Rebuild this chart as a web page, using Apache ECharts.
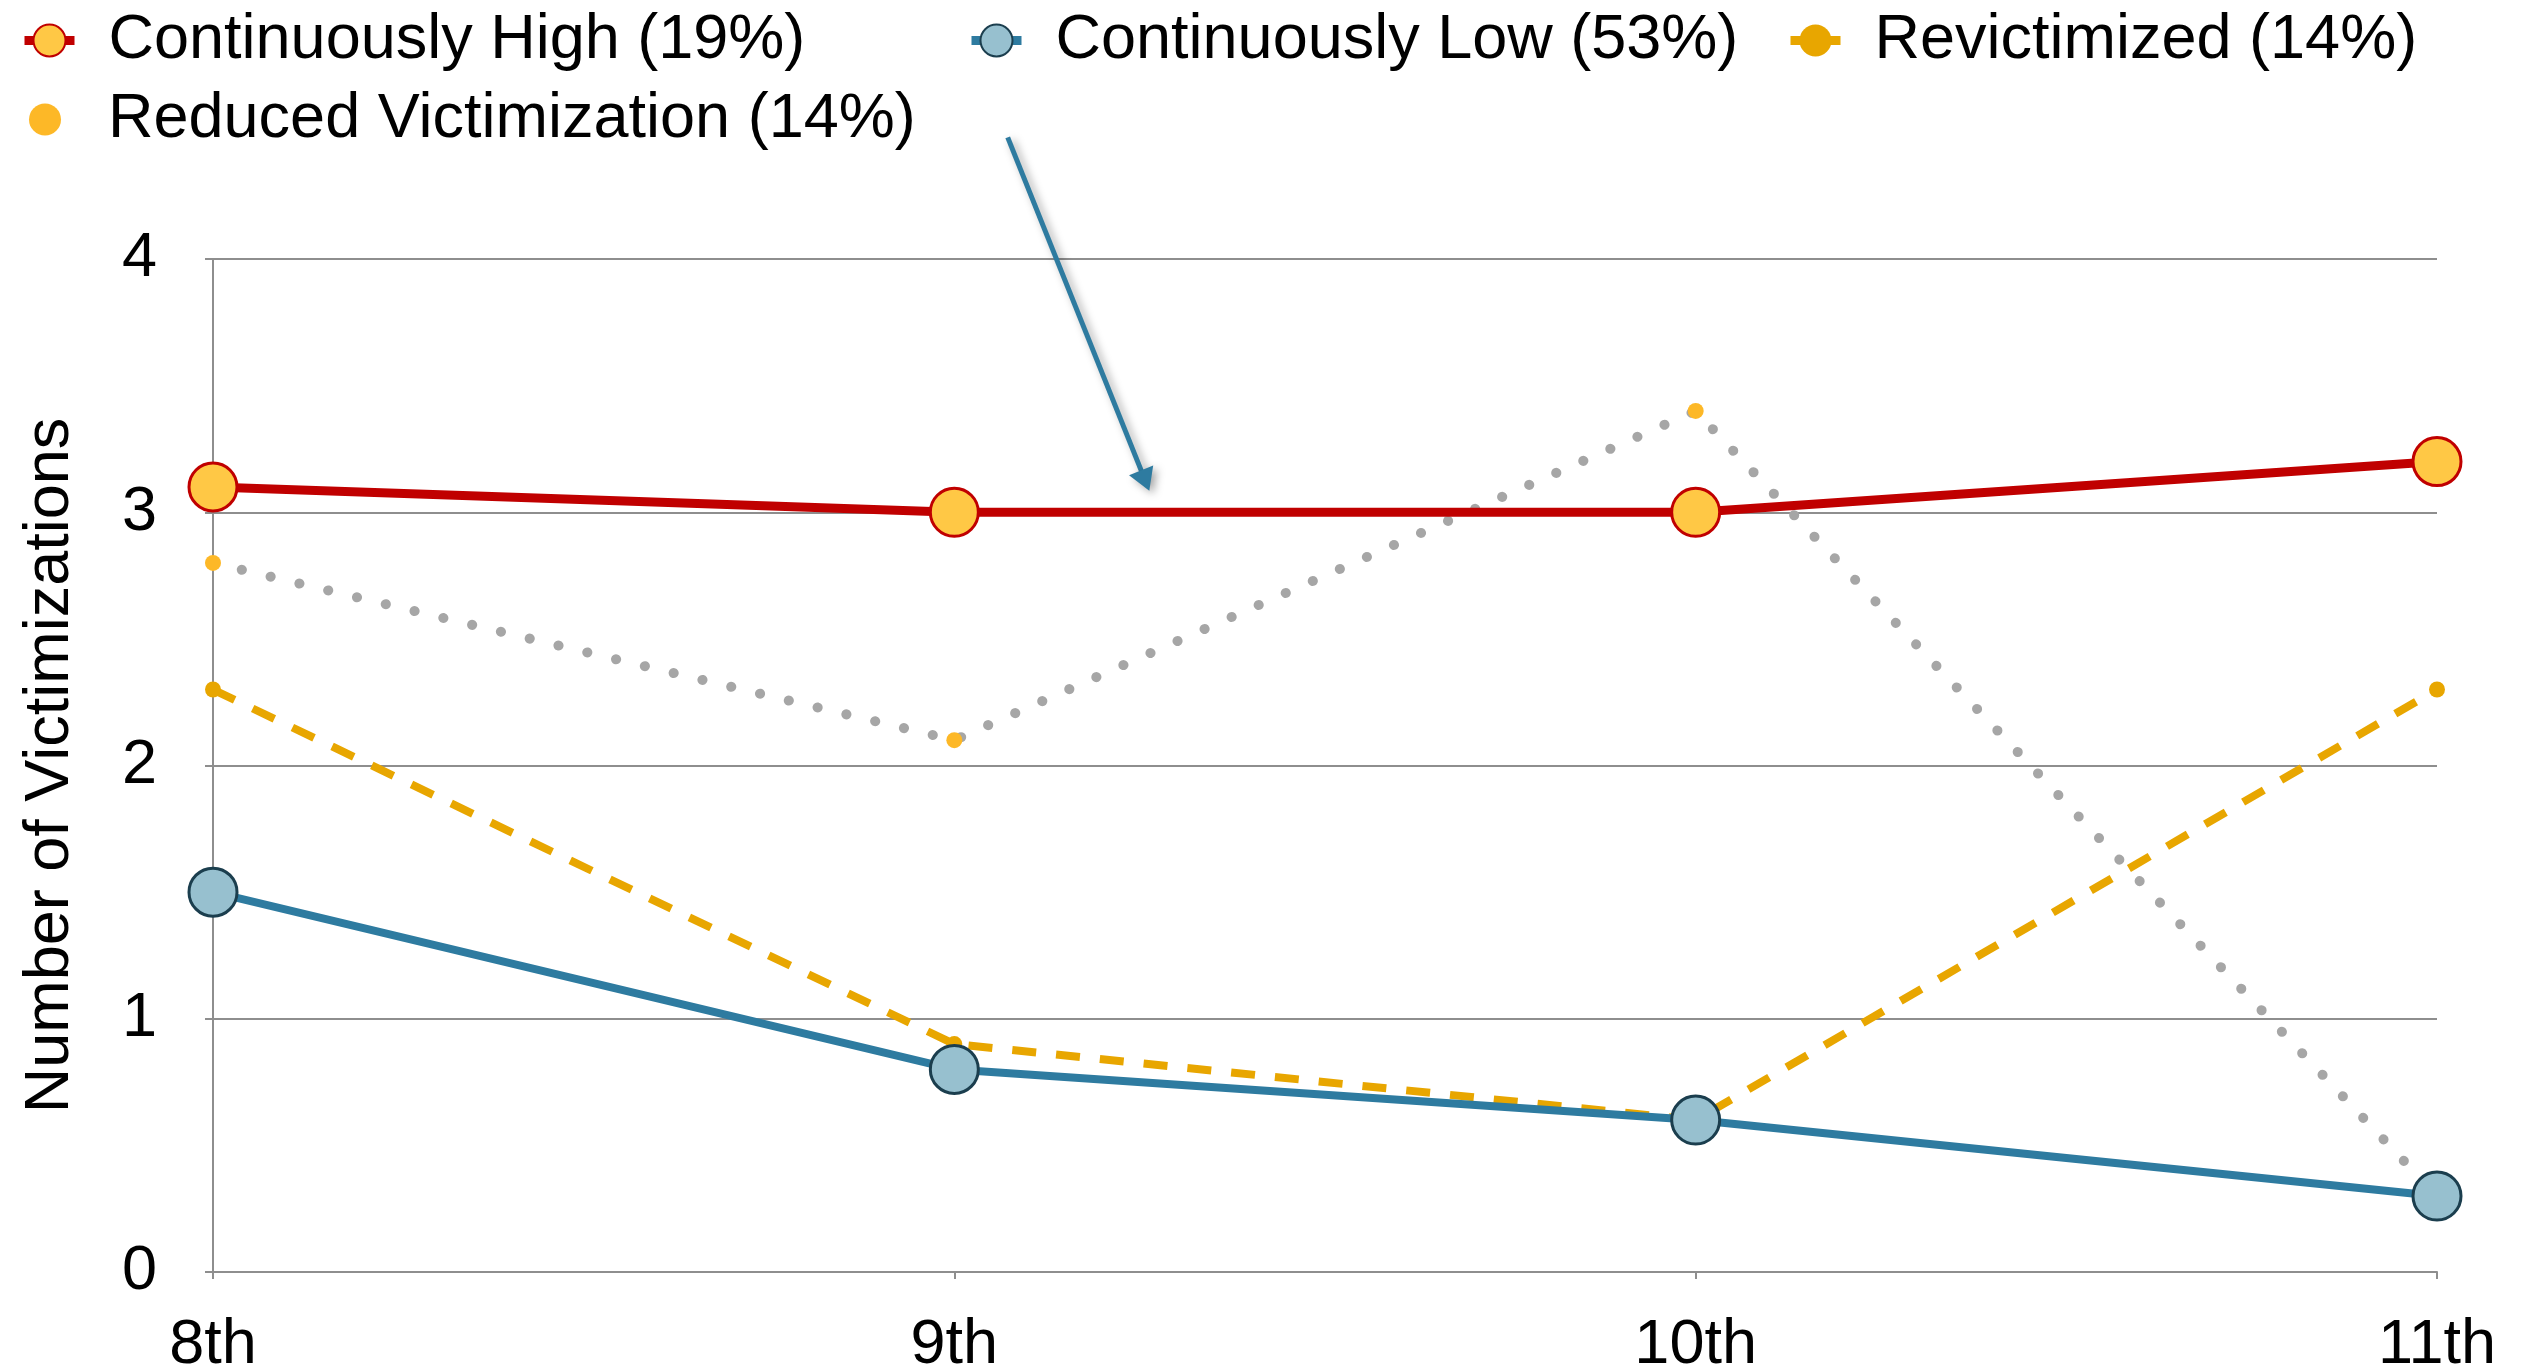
<!DOCTYPE html>
<html>
<head>
<meta charset="utf-8">
<title>Number of Victimizations by Grade</title>
<script src="https://cdn.jsdelivr.net/npm/echarts@6/dist/echarts.min.js"></script>
<style>
  html, body { margin: 0; padding: 0; background: #ffffff; }
  #chart { width: 2530px; height: 1372px; }
</style>
</head>
<body>
<div id="chart"></div>
<script>
// Grades on the x axis
const grades = ['8th', '9th', '10th', '11th'];

// Mean number of victimizations per trajectory group
const continuouslyHigh = [3.1, 3.0, 3.0, 3.2];
const continuouslyLow = [1.5, 0.8, 0.6, 0.3];
const revictimized = [2.3, 0.9, 0.6, 2.3];
const reducedVictimization = [2.8, 2.1, 3.4, 0.3];

// Group names with their share of the sample
const seriesNames = {
  high: 'Continuously High (19%)',
  low: 'Continuously Low (53%)',
  revict: 'Revictimized (14%)',
  reduced: 'Reduced Victimization (14%)'
};

// Y axis ticks
const yTicks = { min: 0, max: 4, interval: 1 };

// Callout arrow in data space: [grade index, victimizations]
const arrowFrom = [1.072, 4.48];
const arrowTo = [1.263, 3.085];

const FONT = '"Liberation Sans", Arial, Helvetica, sans-serif';
const RED = '#C00000';
const GOLD = '#FFC845';
const BLUE = '#2E7BA0';
const LIGHTBLUE = '#97C0CF';
const DARKBLUE = '#1B3E4E';
const ORANGE = '#E8A600';
const AMBER = '#FDB827';
const GRAY = '#A6A6A6';
const AXIS = '#8E8E8E';

const chart = echarts.init(document.getElementById('chart'), null, { renderer: 'canvas' });

function legendBlock(name, left, top, extra) {
  return Object.assign({
    data: [name],
    left: left,
    top: top,
    itemWidth: 50,
    itemHeight: 40,
    selectedMode: false,
    textStyle: { fontFamily: FONT, fontSize: 63, color: '#000', padding: [0, 0, 0, 29] }
  }, extra || {});
}

const option = {
  backgroundColor: '#ffffff',
  animation: false,
  textStyle: { fontFamily: FONT },
  legend: [
    legendBlock({
      name: seriesNames.high,
      lineStyle: { width: 9, color: RED, type: 'solid' },
      itemStyle: { color: GOLD, borderColor: RED, borderWidth: 2 }
    }, 15, 4),
    legendBlock({
      name: seriesNames.low,
      lineStyle: { width: 9, color: BLUE, type: 'solid' },
      itemStyle: { color: LIGHTBLUE, borderColor: DARKBLUE, borderWidth: 2 }
    }, 962, 4),
    legendBlock({
      name: seriesNames.revict,
      lineStyle: { width: 9, color: ORANGE, type: 'solid' },
      itemStyle: { color: ORANGE, borderWidth: 0 }
    }, 1781, 4),
    legendBlock({
      name: seriesNames.reduced,
      icon: 'circle',
      itemStyle: { color: AMBER, borderWidth: 0 }
    }, 24, 83, {
      itemHeight: 32,
      textStyle: { fontFamily: FONT, fontSize: 63, color: '#000', padding: [0, 0, 0, 33] }
    })
  ],
  grid: {
    left: 213, right: 93, top: 259, bottom: 100,
    containLabel: false,
    outerBoundsMode: 'none'
  },
  xAxis: {
    type: 'category',
    data: grades,
    boundaryGap: false,
    axisLine: { lineStyle: { color: AXIS, width: 2 } },
    axisTick: { show: true, length: 7, inside: false, lineStyle: { color: AXIS, width: 2 } },
    axisLabel: { color: '#000', fontSize: 63, fontFamily: FONT, margin: 42 },
    splitLine: { show: false }
  },
  yAxis: {
    type: 'value',
    min: yTicks.min,
    max: yTicks.max,
    interval: yTicks.interval,
    name: 'Number of Victimizations',
    nameLocation: 'middle',
    nameGap: 131,
    nameTextStyle: { color: '#000', fontSize: 63, fontFamily: FONT },
    axisLine: { show: true, lineStyle: { color: AXIS, width: 2 } },
    axisTick: { show: true, length: 8, lineStyle: { color: AXIS, width: 2 } },
    axisLabel: { color: '#000', fontSize: 63, fontFamily: FONT, margin: 56 },
    splitLine: { show: true, lineStyle: { color: AXIS, width: 2 } }
  },
  series: [
    {
      name: seriesNames.reduced,
      type: 'line',
      data: reducedVictimization,
      z: 2,
      symbol: 'circle',
      symbolSize: 16,
      itemStyle: { color: AMBER },
      lineStyle: { color: GRAY, width: 10, type: [0.1, 29.5], cap: 'round' }
    },
    {
      name: seriesNames.revict,
      type: 'line',
      data: revictimized,
      z: 3,
      symbol: 'circle',
      symbolSize: 16,
      itemStyle: { color: ORANGE },
      lineStyle: { color: ORANGE, width: 8, type: [24, 20] }
    },
    {
      name: seriesNames.high,
      type: 'line',
      data: continuouslyHigh,
      z: 4,
      symbol: 'circle',
      symbolSize: 48,
      itemStyle: { color: GOLD, borderColor: RED, borderWidth: 3 },
      lineStyle: { color: RED, width: 9 }
    },
    {
      name: seriesNames.low,
      type: 'line',
      data: continuouslyLow,
      z: 5,
      symbol: 'circle',
      symbolSize: 48,
      itemStyle: { color: LIGHTBLUE, borderColor: DARKBLUE, borderWidth: 3 },
      lineStyle: { color: BLUE, width: 8 }
    }
  ]
};

chart.setOption(option);

// Map a fractional grade position to pixels by interpolating between category ticks
function toPixel(pt) {
  const i0 = Math.floor(pt[0]);
  const a = chart.convertToPixel({ gridIndex: 0 }, [i0, pt[1]]);
  const b = chart.convertToPixel({ gridIndex: 0 }, [i0 + 1, pt[1]]);
  const t = pt[0] - i0;
  return [a[0] + (b[0] - a[0]) * t, a[1]];
}

// Callout arrow pointing at the Continuously High line
const p0 = toPixel(arrowFrom);
const p1 = toPixel(arrowTo);
const dx = p1[0] - p0[0];
const dy = p1[1] - p0[1];
const len = Math.sqrt(dx * dx + dy * dy);
const ux = dx / len, uy = dy / len;
const headLen = 22, headHalf = 13;
const baseX = p1[0] - ux * headLen, baseY = p1[1] - uy * headLen;
const shadow = { shadowBlur: 8, shadowColor: 'rgba(0,0,0,0.35)', shadowOffsetX: 4, shadowOffsetY: 3 };

chart.setOption({
  graphic: [
    {
      type: 'line',
      z: 10,
      shape: { x1: p0[0], y1: p0[1], x2: baseX + ux * 2, y2: baseY + uy * 2 },
      style: Object.assign({ stroke: BLUE, lineWidth: 5 }, shadow)
    },
    {
      type: 'polygon',
      z: 10,
      shape: {
        points: [
          [p1[0], p1[1]],
          [baseX - uy * headHalf, baseY + ux * headHalf],
          [baseX + uy * headHalf, baseY - ux * headHalf]
        ]
      },
      style: Object.assign({ fill: BLUE }, shadow)
    }
  ]
});
</script>
</body>
</html>
